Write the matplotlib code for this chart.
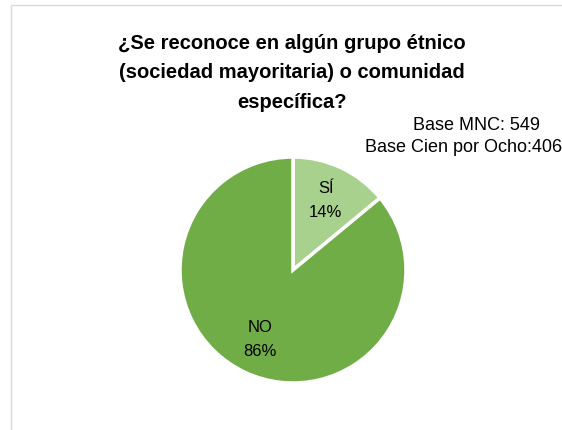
import numpy as np
import matplotlib.pyplot as plt
from matplotlib.patches import Rectangle

categorias = ['SÍ', 'NO']
porcentajes = [14, 86]
colores = ['#A9D18E', '#70AD47']

plt.rcParams['font.family'] = ['Liberation Sans', 'DejaVu Sans']

fig = plt.figure(figsize=(5.62, 4.30), dpi=100)
ax = fig.add_axes([0, 0, 1, 1])

cx, cy, r = 293, 160, 113
wedges, texts = ax.pie(porcentajes, colors=colores, startangle=90, counterclock=False,
                       center=(cx, cy), radius=r,
                       wedgeprops=dict(edgecolor='white', linewidth=2.5))

for w, cat, p in zip(wedges, categorias, porcentajes):
    ang = np.deg2rad((w.theta1 + w.theta2) / 2)
    x = cx + 0.68 * r * np.cos(ang)
    y = cy + 0.68 * r * np.sin(ang)
    ax.text(x, y, f'{cat}\n{p}%', ha='center', va='center', fontsize=12,
            color='#000000', linespacing=1.8)

# marco del grafico
ax.add_patch(Rectangle((10.5, -5), 560, 430.5, fill=False,
                       edgecolor='#D9D9D9', linewidth=1))

ax.text(292, 430 - 73, '¿Se reconoce en algún grupo étnico\n(sociedad mayoritaria) o comunidad\nespecífica?',
        ha='center', va='center', fontsize=14.5, fontweight='bold', linespacing=1.7)

ax.text(540, 430 - 126, 'Base MNC: 549', ha='right', va='center', fontsize=13)
ax.text(562, 430 - 147, 'Base Cien por Ocho:406', ha='right', va='center', fontsize=13)

ax.set_xlim(0, 562)
ax.set_ylim(0, 430)
ax.set_aspect('equal')
ax.axis('off')

fig.savefig('out.png', dpi=100)
